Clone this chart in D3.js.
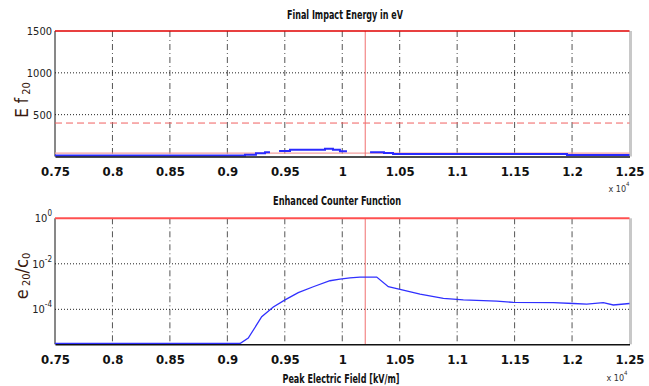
<!DOCTYPE html>
<html>
<head>
<meta charset="utf-8">
<script src="https://cdn.jsdelivr.net/npm/d3@7"></script>
<style>
  body { margin: 0; background: #fff; }
  svg { display: block; }
  text { font-family: "DejaVu Sans Condensed", "Liberation Sans Narrow", sans-serif; font-stretch: condensed; }
</style>
</head>
<body>
<div id="chart"></div>
<script>
// x ticks (field values in V/m, shown as x 10^4)
const xTicks = [7500, 8000, 8500, 9000, 9500, 10000, 10500, 11000, 11500, 12000, 12500];

// top panel: final impact energy (eV), stepped, null = gap
const energyField = [7500, 9154, 9249, 9328, 9371, 9371, 9450, 9545, 9850, 9919, 9980, 10041, 10041, 10242, 10363, 10442, 11956, 12500];
const energyValue = [0, 10, 26, 38, 38, null, 54, 70, 82, 70, 50, 50, null, 38, 30, 18, 6, 6];
const energyTicks = [500, 1000, 1500];
const energyRefLines = { top: 1500, dashed: 400, low: 40 };

// bottom panel: enhanced counter function e20/c0
const counterField = [7500, 9110, 9182, 9299, 9400, 9502, 9617, 9748, 9893, 9980, 10067, 10154, 10300, 10401, 10503, 10677, 10880, 11054, 11344, 11489, 11837, 12011, 12128, 12272, 12359, 12500];
const counterValue = [2.9e-6, 2.9e-6, 5.4e-6, 4.7e-5, 1.26e-4, 2.6e-4, 5.4e-4, 9.8e-4, 1.8e-3, 2.1e-3, 2.4e-3, 2.6e-3, 2.6e-3, 9.8e-4, 7.6e-4, 4.6e-4, 3.0e-4, 2.6e-4, 2.3e-4, 2.0e-4, 1.95e-4, 1.8e-4, 1.7e-4, 1.95e-4, 1.55e-4, 1.8e-4];
const counterTicks = [1e-4, 1e-2, 1];

const markerField = 10200; // vertical red line

function init() {
    const w = 649, h = 386;
    const left = 55, right = 629.5;

    const svg = d3.select("#chart").append("svg")
        .attr("width", w)
        .attr("height", h);

    const x = d3.scaleLinear().domain([7500, 12500]).range([left, right]);

    // ---------- top panel ----------
    const yE = d3.scaleLinear().domain([0, 1500]).range([156.5, 31]);
    drawFrame(svg, x, yE, energyTicks.slice(0, 2));

    const gTop = svg.append("g");
    gTop.append("line")
        .attr("x1", left).attr("x2", right)
        .attr("y1", yE(energyRefLines.dashed)).attr("y2", yE(energyRefLines.dashed))
        .attr("stroke", "#f06060").attr("stroke-dasharray", "7,4");
    gTop.append("line")
        .attr("x1", left).attr("x2", right)
        .attr("y1", yE(energyRefLines.low)).attr("y2", yE(energyRefLines.low))
        .attr("stroke", "#f4a0a0").attr("stroke-width", 1.2);
    gTop.append("line")
        .attr("x1", x(markerField)).attr("x2", x(markerField))
        .attr("y1", yE(1500)).attr("y2", yE(0))
        .attr("stroke", "#f07070");

    const energyData = energyField.map((f, i) => ({ f, v: energyValue[i] }));
    gTop.append("path")
        .datum(energyData)
        .attr("fill", "none")
        .attr("stroke", "#2a2aff")
        .attr("stroke-width", 2)
        .attr("d", d3.line()
            .defined(d => d.v !== null)
            .curve(d3.curveStepAfter)
            .x(d => x(d.f))
            .y(d => yE(d.v) - 1));

    gTop.append("line")
        .attr("x1", left).attr("x2", right)
        .attr("y1", yE(energyRefLines.top)).attr("y2", yE(energyRefLines.top))
        .attr("stroke", "#e00000").attr("stroke-width", 1.5);

    const yAxisE = d3.axisLeft(yE).tickValues(energyTicks).tickSize(0).tickPadding(3).tickFormat(d3.format("d"));
    svg.append("g")
        .attr("transform", `translate(${left},0)`)
        .call(yAxisE)
        .call(g => g.select(".domain").remove())
        .selectAll("text")
        .attr("font-size", "11px")
        .attr("fill", "#222");

    drawXAxis(svg, x, 156.5);

    title(svg, "Final Impact Energy in eV", 345, 19, 116);

    const lblE = svg.append("text")
        .attr("transform", "translate(28,100) rotate(-90)")
        .attr("text-anchor", "middle")
        .attr("fill", "#3a1a10");
    lblE.append("tspan").attr("font-size", "17px").text("E f");
    lblE.append("tspan").attr("font-size", "11px").attr("dy", 2).text(" 20");

    exponentLabel(svg, 619, 192);

    // ---------- bottom panel ----------
    const yC = d3.scaleLog().domain([2.9e-6, 1]).range([344.3, 218.3]);
    drawFrame(svg, x, yC, counterTicks.slice(0, 2));

    const gBot = svg.append("g");
    gBot.append("line")
        .attr("x1", x(markerField)).attr("x2", x(markerField))
        .attr("y1", yC(1)).attr("y2", yC(2.9e-6))
        .attr("stroke", "#f07070");

    const counterData = counterField.map((f, i) => ({ f, v: counterValue[i] }));
    gBot.append("path")
        .datum(counterData)
        .attr("fill", "none")
        .attr("stroke", "#3030ff")
        .attr("stroke-width", 1.3)
        .attr("d", d3.line()
            .x(d => x(d.f))
            .y(d => Math.min(yC(d.v), 343.5)));

    gBot.append("line")
        .attr("x1", left).attr("x2", right)
        .attr("y1", yC(1)).attr("y2", yC(1))
        .attr("stroke", "#ff5050").attr("stroke-width", 2);

    const yAxisC = svg.append("g")
        .attr("font-size", "11px")
        .attr("fill", "#222");
    yAxisC.selectAll("text")
        .data(counterTicks)
        .join("text")
        .attr("x", left - 3)
        .attr("y", d => yC(d) + 4)
        .attr("text-anchor", "end")
        .each(function (d) {
            const t = d3.select(this);
            t.append("tspan").text("10");
            t.append("tspan").attr("font-size", "8px").attr("dy", -6).text(Math.round(Math.log10(d)));
        });

    drawXAxis(svg, x, 344.3);

    title(svg, "Enhanced Counter Function", 337, 205, 128);
    title(svg, "Peak Electric Field [kV/m]", 341, 383, 117);

    const lblC = svg.append("text")
        .attr("transform", "translate(28,276) rotate(-90)")
        .attr("text-anchor", "middle")
        .attr("fill", "#3a1a10");
    lblC.append("tspan").attr("font-size", "18px").text("e");
    lblC.append("tspan").attr("font-size", "11px").attr("dy", 2).text(" 20");
    lblC.append("tspan").attr("font-size", "18px").attr("dy", -2).text("/c");
    lblC.append("tspan").attr("font-size", "11px").attr("dy", 2).text("0");

    exponentLabel(svg, 617, 381);
}

function title(svg, str, cx, y, width) {
    svg.append("text")
        .attr("x", cx - width / 2).attr("y", y)
        .attr("font-size", "13px")
        .attr("font-weight", "bold")
        .attr("fill", "#111")
        .attr("textLength", width)
        .attr("lengthAdjust", "spacingAndGlyphs")
        .text(str);
}

function drawFrame(svg, x, y, gridValues) {
    const [x0, x1] = x.range();
    const [yb, yt] = y.range();
    const g = svg.append("g");

    // vertical dash-dot grid
    g.selectAll("line.vgrid")
        .data(xTicks.slice(1, -1))
        .join("line")
        .attr("class", "vgrid")
        .attr("x1", d => x(d)).attr("x2", d => x(d))
        .attr("y1", yt).attr("y2", yb)
        .attr("stroke", "#555")
        .attr("stroke-dasharray", "6,3,1,3");

    // horizontal dotted grid
    g.selectAll("line.hgrid")
        .data(gridValues)
        .join("line")
        .attr("class", "hgrid")
        .attr("x1", x0).attr("x2", x1)
        .attr("y1", d => y(d)).attr("y2", d => y(d))
        .attr("stroke", "#222")
        .attr("stroke-dasharray", "1,2");

    // right border (grey), left axis (black)
    g.append("line")
        .attr("x1", x1 + 1).attr("x2", x1 + 1)
        .attr("y1", yt).attr("y2", yb)
        .attr("stroke", "#c8c8c8").attr("stroke-width", 3);
    g.append("line")
        .attr("x1", x0).attr("x2", x0)
        .attr("y1", yt).attr("y2", yb)
        .attr("stroke", "#111").attr("stroke-width", 1);
}

function drawXAxis(svg, x, yPos) {
    const axis = d3.axisBottom(x)
        .tickValues(xTicks)
        .tickSize(0)
        .tickPadding(10)
        .tickFormat(d => String(+(d / 1e4).toFixed(2)));
    svg.append("g")
        .attr("transform", `translate(0,${yPos})`)
        .call(axis)
        .call(g => g.select(".domain").attr("stroke", "#111").attr("stroke-width", 1.5))
        .selectAll("text")
        .attr("font-size", "13px")
        .attr("font-weight", "bold")
        .attr("fill", "#111");
}

function exponentLabel(svg, xPos, yPos) {
    const t = svg.append("text")
        .attr("x", xPos).attr("y", yPos)
        .attr("text-anchor", "middle")
        .attr("font-size", "9px")
        .attr("fill", "#333");
    t.append("tspan").text("x 10");
    t.append("tspan").attr("font-size", "6px").attr("dy", -6).text("4");
}

window.onload = init;
</script>
</body>
</html>
